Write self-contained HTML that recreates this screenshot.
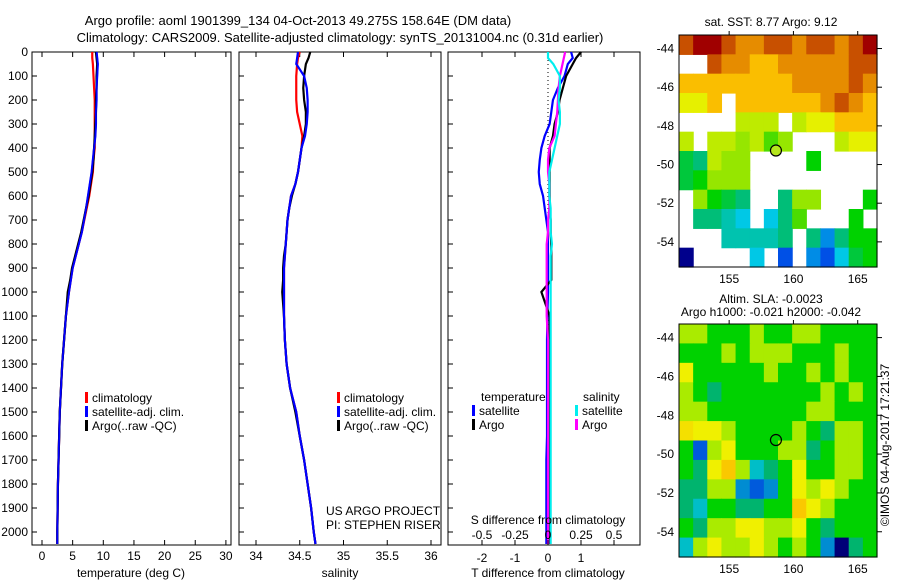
<!DOCTYPE html>
<html><head><meta charset="utf-8"><style>
html,body{margin:0;padding:0;background:#fff;width:900px;height:580px;overflow:hidden}
svg{font-family:"Liberation Sans",sans-serif;font-size:12px}
</style></head><body>
<svg id="fig" width="900" height="580" xmlns="http://www.w3.org/2000/svg">
<text x="298" y="25" text-anchor="middle" font-size="13">Argo profile: aoml 1901399_134 04-Oct-2013 49.275S 158.64E (DM data)</text>
<text x="340" y="42" text-anchor="middle" font-size="13">Climatology: CARS2009. Satellite-adjusted climatology: synTS_20131004.nc (0.31d earlier)</text>
<g id="g"></g>
</svg>
<script>
const depths=[0,25,50,100,150,200,250,300,350,400,450,500,550,600,650,700,750,800,850,900,950,1000,1100,1200,1300,1400,1500,1600,1700,1800,1900,2000,2050];
const tClim=[8.2,8.2,8.3,8.4,8.5,8.6,8.6,8.6,8.6,8.6,8.4,8.3,8.0,7.7,7.3,6.9,6.5,6.0,5.5,5.0,4.7,4.4,3.9,3.6,3.3,3.1,2.9,2.8,2.7,2.6,2.55,2.5,2.5];
const tSat=[8.9,9.0,9.1,9.0,8.9,8.9,8.8,8.8,8.7,8.5,8.3,8.1,7.8,7.5,7.2,6.85,6.5,6.0,5.5,5.0,4.7,4.4,3.9,3.6,3.3,3.1,2.9,2.8,2.7,2.6,2.55,2.5,2.5];
const tArgo=[8.8,8.9,9.0,8.9,8.9,8.8,8.8,8.7,8.6,8.5,8.4,8.2,7.9,7.6,7.2,6.8,6.4,5.9,5.4,4.9,4.6,4.2,3.9,3.6,3.3,3.1,2.9,2.8,2.7,2.6,2.55,2.5,2.5];
const sClim=[34.5,34.48,34.47,34.46,34.46,34.46,34.47,34.5,34.53,34.52,34.5,34.48,34.45,34.4,34.38,34.36,34.35,34.34,34.33,34.32,34.32,34.32,34.32,34.33,34.35,34.39,34.46,34.5,34.55,34.59,34.63,34.66,34.68];
const sSat=[34.48,34.47,34.46,34.55,34.58,34.59,34.59,34.58,34.56,34.52,34.5,34.48,34.45,34.4,34.38,34.36,34.35,34.34,34.33,34.32,34.32,34.32,34.32,34.33,34.35,34.39,34.46,34.5,34.55,34.59,34.63,34.66,34.68];
const sArgo=[34.62,34.6,34.57,34.55,34.54,34.55,34.57,34.57,34.55,34.52,34.5,34.48,34.45,34.41,34.38,34.36,34.35,34.34,34.32,34.31,34.31,34.3,34.32,34.33,34.35,34.39,34.45,34.5,34.55,34.59,34.63,34.66,34.68];
const dtSat=[0.7,0.75,0.6,0.5,0.3,0.15,0.1,0.05,-0.1,-0.2,-0.25,-0.28,-0.25,-0.15,-0.1,-0.05,0,0,0,0,0,0,-0.02,-0.03,-0.03,-0.03,-0.03,-0.03,-0.05,-0.05,-0.05,-0.05,-0.05];
const dtArgo=[1.0,0.85,0.75,0.55,0.45,0.35,0.3,0.2,0.15,0.05,0.05,0.05,0.05,0.05,0.05,0.08,0.08,0.1,0.1,0.1,0.1,-0.2,0.05,0.05,0.05,0.05,0.05,0.05,0.05,0.05,0.05,0.05,0.05];
const dsSat=[0,0,0.04,0.09,0.09,0.08,0.09,0.09,0.07,0.05,0.03,0.01,0.01,0.01,0.02,0.02,0.02,0.03,0.02,0.02,0.02,0.02,0.02,0.02,0.02,0.02,0.02,0.02,0.02,0.02,0.02,0.02,0.02];
const dsArgo=[0.13,0.12,0.11,0.09,0.08,0.075,0.07,0.06,0.05,0.01,0,0,0.01,0.01,0.01,0,0,-0.01,-0.01,-0.01,-0.01,-0.01,-0.01,0,0,0,0,0,0,0,0,0,0];
const depthTicks=[0,100,200,300,400,500,600,700,800,900,1000,1100,1200,1300,1400,1500,1600,1700,1800,1900,2000];
const tTicks=[0,5,10,15,20,25,30];
const sTicks=[34,34.5,35,35.5,36];
const dtTicks=[-2,-1,0,1,2];
const dtLabels=["-2","-1","0","1",""];
const dsTicks=[-0.5,-0.25,0,0.25,0.5];
const dsLabels=["-0.5","-0.25","0","0.25","0.5"];
const latTicks=[-44,-46,-48,-50,-52,-54];
const lonTicks=[155,160,165];
const sst=[
[13,14,14,13,12,12,13,13,12,13,13,12,13,14],
[null,null,13,12,12,11,11,12,12,12,12,12,13,13],
[11,11,11,11,11,11,11,11,12,12,12,12,13,12],
[10,10,11,null,11,11,11,11,11,11,12,13,12,11],
[null,null,null,null,9.5,9.5,9.5,null,9.5,10,10,11,11,11],
[9.5,null,9.5,9.5,9,9.5,8.5,9,null,null,null,9.5,10,10],
[7.5,7,9.5,9,9,null,null,null,null,8,null,null,null,null],
[7.5,8,9,9,9,null,null,null,null,null,null,null,null,null],
[null,9,8,7.5,7,null,null,7,9,9,null,null,null,8],
[null,7,7,6.5,6,null,6,7,8.5,null,null,null,8,null],
[null,null,null,6.5,6.5,6.5,6.5,7,null,7,5.5,7,8,8],
[4,null,null,null,null,6,null,5,null,5.5,5,6,7.5,8]];
const sla=[
[0.05,0.05,0,0,0,0.05,0,0,0.05,0.05,0,0,0,0],
[0,0,0,0.05,0,0.05,0.05,0.05,0,0,0,0.05,0,0],
[0.1,0,0,0,0,0,0.05,0,0,0.05,0,0.05,0,0],
[0.05,0,-0.05,0,0,0,0,0,0,0,0.05,0,0.05,0],
[0.05,0.05,0,0,0,0,0,0,0,0.05,0.05,0,0,0],
[0.12,0.1,0.1,0.05,0,0,0,0,0.05,0,-0.05,0.05,0.05,0],
[0,-0.2,0.05,0.1,0,0,0,0.05,0.05,-0.05,0,0.05,0.05,0],
[0,-0.05,0.1,0.15,0.05,-0.1,-0.05,0,0.1,0,0,0.05,0.05,0],
[-0.05,-0.05,0.05,0.05,-0.15,-0.2,-0.15,0,0.1,0.05,0.1,0.05,0,0],
[-0.05,-0.1,0,0,-0.05,-0.05,0,0,0.15,0.1,0.05,0,0,0],
[0,-0.05,0.05,0.05,0.1,0.1,0.05,0.05,0.1,0,-0.05,0,0,0],
[-0.1,0.05,0.1,0.05,0.05,0.1,0.05,0,0.05,0,-0.15,-0.3,-0.05,0]];
const argoLon=158.64, argoLat=-49.275;

const NS="http://www.w3.org/2000/svg";
const G=document.getElementById('g');
function el(t,a,p){const e=document.createElementNS(NS,t);for(const k in a)e.setAttribute(k,a[k]);(p||G).appendChild(e);return e;}
const TOP=52,BOT=545;
const yD=d=>TOP+d*0.24;
const xT=v=>42+v*6.13;
const xS=v=>256+(v-34)*87.5;
const xDT=v=>548+v*33;
const xDS=v=>548+v*132;

depthTicks.forEach(d=>{const t=el('text',{x:28,y:yD(d)+4,'text-anchor':'end'});t.textContent=d;

});

function panel(x0,x1,name){
  const r=el('rect',{x:x0,y:TOP,width:x1-x0,height:BOT-TOP,fill:'none',stroke:'#000','stroke-width':1});
  
  
  depthTicks.forEach(d=>{el('line',{x1:x0,x2:x0+5,y1:yD(d),y2:yD(d),stroke:'#000'});});
}
function xticks(ticks,labels,fx,ylab,top){
  ticks.forEach((v,i)=>{const x=fx(v);
    el('line',{x1:x,x2:x,y1:BOT,y2:BOT-5,stroke:'#000'});
    if(top)el('line',{x1:x,x2:x,y1:TOP,y2:TOP+5,stroke:'#000'});
    const t=el('text',{x:x,y:ylab,'text-anchor':'middle'});t.textContent=labels[i];
    
    });
}
function line(vals,fx,col,name,w){
  const p=el('polyline',{points:vals.map((v,i)=>fx(v)+','+yD(depths[i])).join(' '),fill:'none',stroke:col,'stroke-width':w||2.2,'stroke-linejoin':'miter'});
  
  
}
function label(x,y,s,name,anchor){const t=el('text',{x:x,y:y,'text-anchor':anchor||'start'});t.textContent=s;
  
  return t;}
function legItem(x,y,col,s){el('rect',{x:x,y:y-10,width:3,height:11,fill:col});label(x+7,y,s,'legend-entry');}

panel(32,231,'temperature-panel');
xticks(tTicks,tTicks.map(String),xT,560,true);
line(tClim,xT,'#f00','temp-climatology-line');
line(tSat,xT,'#00f','temp-satellite-line');
line(tArgo,xT,'#000','temp-argo-line');
line(tSat,xT,'#00f','temp-satellite-line-top',1.8);
label(131,577,'temperature (deg C)','x-axis-title-temperature','middle');
legItem(85,402,'#f00','climatology');legItem(85,416,'#00f','satellite-adj. clim.');legItem(85,430,'#000','Argo(..raw -QC)');

panel(239,441,'salinity-panel');
xticks(sTicks,sTicks.map(String),xS,560,true);
line(sClim,xS,'#f00','sal-climatology-line');
line(sArgo,xS,'#000','sal-argo-line');
line(sSat,xS,'#00f','sal-satellite-line');
label(340,577,'salinity','x-axis-title-salinity','middle');
legItem(337,402,'#f00','climatology');legItem(337,416,'#00f','satellite-adj. clim.');legItem(337,430,'#000','Argo(..raw -QC)');
label(326,515,'US ARGO PROJECT','project-label');
label(326,529,'PI: STEPHEN RISER','pi-label');

panel(448,640,'difference-panel');
dtTicks.forEach(v=>{el('line',{x1:xDT(v),x2:xDT(v),y1:TOP,y2:TOP+5,stroke:'#000'});});
el('line',{x1:548,x2:548,y1:TOP,y2:BOT,stroke:'#000','stroke-dasharray':'1,3'});
line(dtSat,xDT,'#00f','t-diff-satellite-line');
line(dtArgo,xDT,'#000','t-diff-argo-line');
line(dsArgo,xDS,'#f0f','s-diff-argo-line');
line(dsSat,xDS,'#0ee','s-diff-satellite-line');
xticks(dtTicks,dtLabels,xDT,562,false);
dsTicks.forEach((v,i)=>label(xDS(v),539,dsLabels[i],'s-diff-tick-label','middle'));
label(548,524,'S difference from climatology','s-diff-axis-title','middle');
label(548,577,'T difference from climatology','t-diff-axis-title','middle');
label(481,401,'temperature','legend-title-temperature');
label(583,401,'salinity','legend-title-salinity');
legItem(472,415,'#00f','satellite');legItem(472,429,'#000','Argo');
legItem(575,415,'#0ee','satellite');legItem(575,429,'#f0f','Argo');

function lerp(a,b,t){return Math.round(a+(b-a)*t);}
function rgb(c){return 'rgb('+c[0]+','+c[1]+','+c[2]+')';}
function cmap(stops,v){if(v<=stops[0][0])return rgb(stops[0][1]);
  for(let i=1;i<stops.length;i++){if(v<=stops[i][0]){const [a,ca]=stops[i-1],[b,cb]=stops[i];const t=(v-a)/(b-a);
    return rgb([lerp(ca[0],cb[0],t),lerp(ca[1],cb[1],t),lerp(ca[2],cb[2],t)]);}}
  return rgb(stops[stops.length-1][1]);}
const sstStops=[[4,[0,0,140]],[5,[0,80,230]],[6,[0,200,230]],[7,[0,190,120]],[8,[0,210,0]],[9,[150,230,0]],[10,[230,240,0]],[11,[250,190,0]],[12,[230,140,0]],[13,[200,80,0]],[14,[160,0,0]]];
const slaStops=[[-0.3,[0,0,120]],[-0.2,[0,90,220]],[-0.1,[0,190,200]],[-0.05,[0,180,110]],[0,[0,210,0]],[0.05,[170,235,0]],[0.1,[240,240,0]],[0.15,[250,200,0]],[0.2,[240,150,0]]];
function map(x0,y0,x1,y1,grid,stops,name){
  const lon=v=>x0+(v-151.1)*(x1-x0)/15.4;
  const lat=v=>y0+(-43.3-v)*(y1-y0)/12;
  const cw=(x1-x0)/14,ch=(y1-y0)/12;
  grid.forEach((row,r)=>row.forEach((v,c)=>{if(v===null)return;
    const e=el('rect',{x:x0+c*cw,y:y0+r*ch,width:cw+0.6,height:ch+0.6,fill:cmap(stops,v)});
    
    }));
  const b=el('rect',{x:x0,y:y0,width:x1-x0,height:y1-y0,fill:'none',stroke:'#000'});
  
  
  latTicks.forEach(v=>{const y=lat(v);el('line',{x1:x1,x2:x1+5,y1:y,y2:y,stroke:'#000'});label(x0-5,y+4,String(v),'lat-tick-label','end');});
  lonTicks.forEach(v=>{const x=lon(v);el('line',{x1:x,x2:x,y1:y0,y2:y0-4,stroke:'#000'});label(x,y1+16,String(v),'lon-tick-label','middle');});
  const m=el('circle',{cx:lon(argoLon),cy:lat(argoLat),r:5.5,fill:'none',stroke:'#000','stroke-width':1.2});
  
  
}
map(679,35,877,267,sst,sstStops,'sst-map');
document.querySelectorAll('circle')[0].setAttribute('fill','#b5e61d');
label(771,26,'sat. SST: 8.77 Argo: 9.12','sst-map-title','middle');
map(679,324,877,557,sla,slaStops,'sla-map');
label(771,303,'Altim. SLA: -0.0023','sla-map-title','middle');
label(771,316,'Argo h1000: -0.021 h2000: -0.042','sla-map-subtitle','middle');
const ts=el('text',{x:0,y:0,transform:'translate(889,445) rotate(-90)','text-anchor':'middle'});
ts.textContent='©IMOS 04-Aug-2017 17:21:37';


</script>
</body></html>
